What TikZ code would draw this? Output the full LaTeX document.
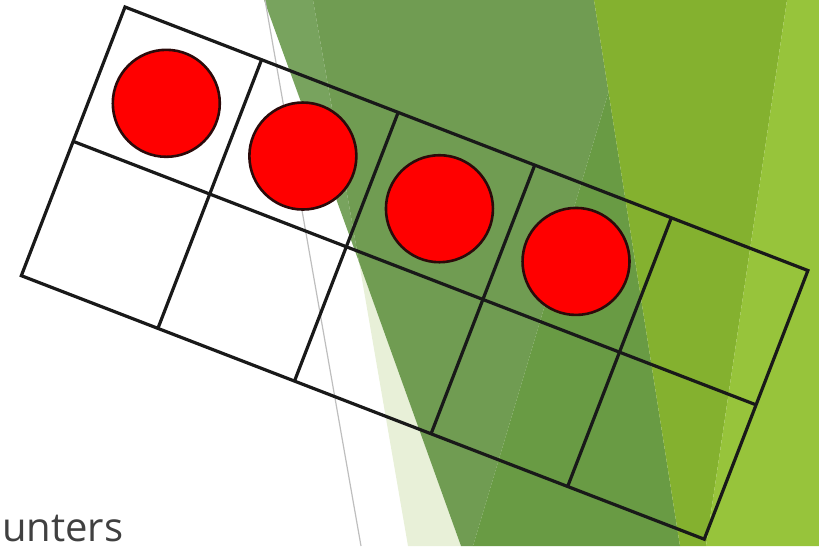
\documentclass[tikz,border=0pt]{standalone}
\usepackage{fontspec}
\setmainfont{Open Sans}
\usetikzlibrary{positioning}
\definecolor{facetlight}{HTML}{78A35E}
\definecolor{facetpale}{HTML}{E8F0D8}
\definecolor{facetdark}{HTML}{709C52}
\definecolor{facetdeep}{HTML}{699B44}
\definecolor{facetyellow}{HTML}{84B12F}
\definecolor{facetlime}{HTML}{97C43B}
\definecolor{facetline}{HTML}{BEBEBE}
\definecolor{counteredge}{HTML}{2B0A0A}
\definecolor{textgray}{HTML}{404040}

\begin{document}
\begin{tikzpicture}[x=1pt, y=-1pt,
                gridline/.style={draw=black!90, line width=3.2pt, line join=miter},
                counter/.style={circle, draw=counteredge, line width=2.6pt, fill=red, minimum size=107pt, inner sep=0pt}]
                \useasboundingbox (0,0) rectangle (819,546);
                \clip (0,0) rectangle (819,546);

                % background facets
                \fill[facetlight] (264,0) -- (313,0) -- (359,262) -- cycle;
                \fill[facetpale] (359,262) -- (461,546) -- (408,546) -- cycle;
                \fill[facetdark] (313,0) -- (594,0) -- (608.5,92) -- (473,546) -- (461,546) -- (359,262) -- cycle;
                \fill[facetdeep] (608.5,92) -- (680,546) -- (473,546) -- cycle;
                \fill[facetyellow] (594,0) -- (787,0) -- (706,546) -- (680,546) -- cycle;
                \fill[facetlime] (787,0) -- (819,0) -- (819,546) -- (706,546) -- cycle;
                \draw[facetline, line width=1.2pt] (265,0) -- (361,546);

                % ten frame
                \begin{scope}[shift={(125,7)}, rotate=-21.1]
                    \draw[gridline] (0,0) rectangle (732,288);
                    \draw[gridline] (0,144) -- (732,144);
                    \foreach \k in {1,...,4}
                        \draw[gridline] ({\k*146.4},0) -- ({\k*146.4},288);
                    \foreach \k in {1,...,4}
                        \node[counter] (c\k) at ({(\k-0.5)*146.4},75) {};
                \end{scope}

                \node[text=textgray, font=\fontsize{40}{42}\selectfont, anchor=base west, inner sep=0pt] (caption) at (2,541) {unters};
            \end{tikzpicture}
\end{document}
